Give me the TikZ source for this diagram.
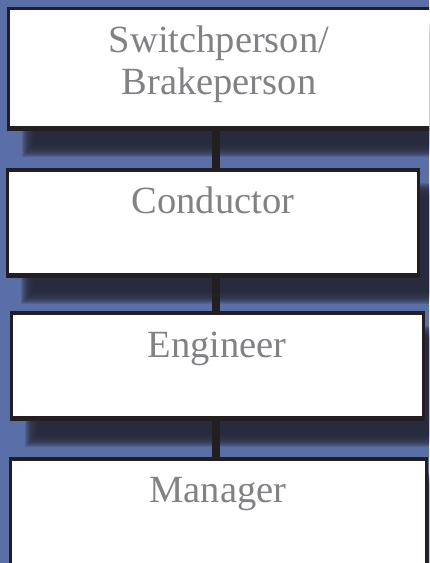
\documentclass[tikz,border=0pt]{standalone}
\usepackage{fontspec}
\setmainfont{Liberation Serif}
\definecolor{bgblue}{RGB}{90,111,168}
\definecolor{shad}{RGB}{40,42,58}
\definecolor{edgec}{RGB}{35,31,32}
\definecolor{txtc}{RGB}{128,130,133}
\tikzset{
  box/.style={draw=edgec, line width=3pt, fill=white, rectangle, inner sep=0pt},
  conn/.style={draw=edgec, line width=8pt},
  lbl/.style={text=txtc, font=\fontsize{38.5}{42}\selectfont, inner sep=0pt, align=center}
}
\begin{document}
\begin{tikzpicture}[x=1pt,y=-1pt]
\useasboundingbox (0,0) rectangle (429,563);
\clip (0,0) rectangle (429,563);
\fill[bgblue] (0,0) rectangle (429,563);
% shadows
\foreach \a/\b/\c/\d in {7/7/445/129, 6/169/420/276, 10/312/425/419, 9/458/428/575}{
  \foreach \i in {0,...,13}{
    \fill[shad, opacity=0.2] (\a+15+\i, \b+14+\i) rectangle (\c+29-\i, \d+28-\i);
  }
}
% boxes
\node[box, minimum width=435pt, minimum height=119pt] (b1) at (226,68) {};
\node[box, minimum width=411pt, minimum height=104pt] (b2) at (213,222.5) {};
\node[box, minimum width=412pt, minimum height=104pt] (b3) at (217.5,365.5) {};
\node[box, minimum width=416pt, minimum height=114pt] (b4) at (218.5,516.5) {};
\coordinate (cx) at (216,0);
% connectors
\draw[conn] (b1.south -| cx) -- (b2.north -| cx);
\draw[conn] (b2.south -| cx) -- (b3.north -| cx);
\draw[conn] (b3.south -| cx) -- (b4.north -| cx);
% box outlines over connector ends
\draw[edgec, line width=3pt] (b1.south west) -- (b1.south east);
\draw[edgec, line width=3pt] (b2.north west) -- (b2.north east);
\draw[edgec, line width=3pt] (b2.south west) -- (b2.south east);
\draw[edgec, line width=3pt] (b3.north west) -- (b3.north east);
\draw[edgec, line width=3pt] (b3.south west) -- (b3.south east);
\draw[edgec, line width=3pt] (b4.north west) -- (b4.north east);
% labels
\node[lbl, anchor=base] (t1) at (219,94) {Switchperson/\\Brakeperson};
\node[lbl, anchor=base] (t2) at (213,213) {Conductor};
\node[lbl, anchor=base] (t3) at (217,357) {Engineer};
\node[lbl, anchor=base] (t4) at (218,502) {Manager};
\end{tikzpicture}
\end{document}
